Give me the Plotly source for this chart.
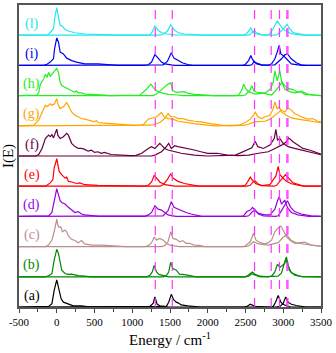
import plotly.graph_objects as go

# panel labels / colours, bottom to top
labels = ['(a)', '(b)', '(c)', '(d)', '(e)', '(f)', '(g)', '(h)', '(i)', '(l)']
colors = ['#000000', '#008800', '#bc8f8f', '#9900dd', '#ff0000',
          '#660040', '#ffa500', '#22ee22', '#0000ee', '#22e8ee']

# dashed reference lines (cm-1)
ref_lines = [1305, 1530, 2620, 2840, 2950, 3048, 3062]

x_ticks = [-500, 0, 500, 1000, 1500, 2000, 2500, 3000, 3500]
x_ticktext = ['-500', '0', '500', '1000', '1500', '2000', '2500', '3000', '3500']

# (a)
a1_e = [-500, -108, -64, -34, 0, 23, 58, 88, 119, 154, 219, 328, 371, 450, 1180, 1234, 1278, 1300, 1330, 1365, 1430, 1480, 2480, 2519, 2563, 2593, 2628, 2820, 2868, 2898, 2933, 2968, 2998, 3042, 3100, 3500]
a1_i = [0, 0.02, 0.11, 0.55, 0.90, 0.66, 0.27, 0.16, 0.13, 0.09, 0.04, 0.04, 0.02, 0, 0, 0.02, 0.13, 0.33, 0.09, 0.04, 0.02, 0, 0, 0.02, 0.09, 0.05, 0.02, 0, 0.02, 0.16, 0.38, 0.16, 0.09, 0.04, 0, 0]
a2_e = [-500, 1400, 1452, 1483, 1517, 1548, 1583, 1613, 1648, 1735, 1822, 1900, 2900, 2955, 2998, 3033, 3064, 3107, 3173, 3238, 3300, 3500]
a2_i = [0, 0, 0.02, 0.16, 0.42, 0.24, 0.16, 0.13, 0.07, 0.04, 0.02, 0, 0, 0.02, 0.11, 0.33, 0.16, 0.09, 0.05, 0.02, 0, 0]

# (b)
b1_e = [-500, -150, -108, -64, -34, 0, 23, 45, 66, 110, 154, 197, 284, 371, 450, 1190, 1234, 1265, 1291, 1321, 1352, 1430, 1480, 2480, 2519, 2563, 2593, 2628, 2693, 2800, 2846, 2889, 2924, 2955, 2985, 3020, 3042, 3064, 3107, 3194, 3260, 3500]
b1_i = [0, 0, 0.03, 0.11, 0.55, 0.91, 0.77, 0.44, 0.22, 0.11, 0.08, 0.09, 0.04, 0.02, 0, 0, 0.05, 0.16, 0.38, 0.16, 0.08, 0.03, 0, 0, 0.02, 0.11, 0.16, 0.08, 0.02, 0, 0.02, 0.16, 0.42, 0.31, 0.38, 0.44, 0.66, 0.38, 0.13, 0.04, 0, 0]
b2_e = [-500, 1410, 1452, 1483, 1509, 1539, 1583, 1626, 1692, 1779, 1850, 2500, 2541, 2584, 2619, 2663, 2700, 2900, 2933, 2977, 3011, 3033, 3055, 3085, 3151, 3238, 3500]
b2_i = [0, 0, 0.04, 0.16, 0.48, 0.27, 0.22, 0.09, 0.07, 0.03, 0, 0, 0.02, 0.10, 0.06, 0.02, 0, 0, 0.02, 0.13, 0.38, 0.60, 0.44, 0.20, 0.05, 0.01, 0]

# (c)
c1_e = [-500, -150, -108, -64, -29, 0, 14, 32, 53, 75, 110, 132, 154, 197, 241, 284, 328, 371, 459, 589, 807, 900, 1170, 1212, 1256, 1291, 1321, 1365, 1408, 1452, 1496, 1561, 1620, 2450, 2497, 2563, 2606, 2637, 2693, 2759, 2802, 2846, 2889, 2924, 2968, 2998, 3042, 3085, 3151, 3282, 3369, 3478, 3500]
c1_i = [0, 0, 0.05, 0.22, 0.55, 0.91, 0.71, 0.64, 0.66, 0.49, 0.55, 0.49, 0.35, 0.24, 0.20, 0.13, 0.20, 0.09, 0.05, 0.05, 0.02, 0, 0, 0.03, 0.13, 0.31, 0.22, 0.27, 0.22, 0.11, 0.05, 0.02, 0, 0, 0.02, 0.16, 0.44, 0.22, 0.13, 0.09, 0.13, 0.22, 0.49, 0.60, 0.68, 0.55, 0.33, 0.22, 0.11, 0.15, 0.05, 0.02, 0.01]
c2_e = [-500, 1390, 1430, 1474, 1509, 1539, 1583, 1626, 1670, 1713, 1757, 1822, 1888, 1960, 2500, 2541, 2606, 2672, 2802, 2933, 2998, 3042, 3072, 3107, 3194, 3260, 3325, 3456, 3500]
c2_i = [0, 0, 0.03, 0.16, 0.49, 0.27, 0.24, 0.16, 0.20, 0.11, 0.11, 0.05, 0.04, 0, 0, 0.02, 0.16, 0.09, 0.05, 0.13, 0.31, 0.38, 0.31, 0.20, 0.11, 0.09, 0.05, 0.02, 0.01]

# (d)
d1_e = [-500, -150, -108, -64, -43, 0, 14, 45, 66, 110, 154, 197, 241, 284, 328, 371, 502, 560, 1170, 1212, 1256, 1300, 1343, 1387, 1430, 1474, 1539, 1580, 2440, 2475, 2519, 2563, 2593, 2628, 2672, 2759, 2824, 2889, 2924, 2946, 2977, 3020, 3055, 3107, 3194, 3282, 3340, 3500]
d1_i = [0, 0, 0.02, 0.13, 0.41, 0.92, 0.79, 0.52, 0.46, 0.41, 0.30, 0.21, 0.13, 0.16, 0.08, 0.05, 0.02, 0, 0, 0.05, 0.13, 0.35, 0.24, 0.21, 0.13, 0.05, 0.02, 0, 0, 0.02, 0.16, 0.21, 0.30, 0.19, 0.10, 0.05, 0.05, 0.24, 0.52, 0.65, 0.41, 0.54, 0.30, 0.13, 0.05, 0.02, 0, 0]
d2_e = [-500, 1370, 1408, 1474, 1517, 1552, 1605, 1648, 1713, 1779, 1866, 1920, 2500, 2541, 2593, 2628, 2672, 2737, 2900, 2933, 2977, 3020, 3055, 3099, 3151, 3238, 3369, 3500]
d2_i = [0, 0, 0.02, 0.19, 0.49, 0.30, 0.24, 0.19, 0.13, 0.08, 0.02, 0, 0, 0.02, 0.16, 0.21, 0.08, 0.02, 0, 0.02, 0.19, 0.35, 0.52, 0.30, 0.16, 0.08, 0.02, 0]

# (e)
e1_e = [-500, -170, -130, -86, -51, -34, 0, 14, 32, 66, 110, 132, 154, 197, 262, 306, 371, 546, 807, 880, 1170, 1212, 1256, 1291, 1321, 1365, 1430, 1517, 1560, 2450, 2497, 2532, 2563, 2593, 2637, 2715, 2824, 2868, 2902, 2933, 2955, 2998, 3042, 3107, 3194, 3260, 3500]
e1_i = [0, 0, 0.03, 0.11, 0.22, 0.60, 0.91, 0.71, 0.49, 0.38, 0.27, 0.30, 0.16, 0.14, 0.09, 0.11, 0.05, 0.03, 0.01, 0, 0, 0.03, 0.14, 0.36, 0.27, 0.14, 0.05, 0.02, 0, 0, 0.03, 0.16, 0.30, 0.19, 0.08, 0.02, 0.05, 0.22, 0.33, 0.66, 0.38, 0.27, 0.16, 0.08, 0.03, 0, 0]
e2_e = [-500, 1370, 1408, 1465, 1509, 1539, 1605, 1692, 1822, 1880, 2520, 2563, 2619, 2663, 2715, 2880, 2911, 2977, 3029, 3072, 3129, 3238, 3300, 3500]
e2_i = [0, 0, 0.05, 0.22, 0.41, 0.27, 0.16, 0.09, 0.03, 0, 0, 0.03, 0.19, 0.08, 0.02, 0, 0.03, 0.22, 0.38, 0.27, 0.11, 0.03, 0, 0]

# (f)
f1_e = [-500, -280, -239, -195, -151, -108, -86, -64, -43, 0, 14, 45, 88, 132, 154, 197, 241, 284, 328, 371, 415, 459, 502, 546, 589, 633, 720, 807, 981, 1050, 1125, 1212, 1256, 1300, 1365, 1387, 1430, 1474, 1561, 1648, 1822, 2000, 2367, 2497, 2584, 2628, 2663, 2737, 2824, 2881, 2902, 2924, 2955, 2998, 3064, 3151, 3238, 3325, 3412, 3478, 3500]
f1_i = [0, 0, 0.05, 0.25, 0.58, 0.69, 0.64, 0.71, 0.60, 0.89, 0.69, 0.58, 0.64, 0.75, 0.69, 0.42, 0.31, 0.25, 0.25, 0.22, 0.16, 0.19, 0.12, 0.14, 0.09, 0.12, 0.05, 0.03, 0.01, 0.02, 0.09, 0.25, 0.31, 0.25, 0.42, 0.36, 0.25, 0.20, 0.14, 0.09, 0.03, 0, 0.03, 0.16, 0.27, 0.49, 0.31, 0.25, 0.36, 0.58, 0.88, 0.53, 0.58, 0.42, 0.31, 0.25, 0.20, 0.14, 0.09, 0.05, 0.04]
f2_e = [-500, 1250, 1300, 1387, 1452, 1483, 1517, 1561, 1605, 1692, 1735, 1822, 1910, 1997, 2127, 2258, 2400, 2541, 2672, 2802, 2889, 2977, 3042, 3072, 3129, 3194, 3260, 3347, 3456, 3500]
f2_i = [0, 0, 0.03, 0.14, 0.31, 0.42, 0.25, 0.34, 0.31, 0.27, 0.25, 0.20, 0.14, 0.09, 0.09, 0.03, 0.01, 0.03, 0.09, 0.14, 0.25, 0.36, 0.47, 0.60, 0.47, 0.36, 0.25, 0.20, 0.09, 0.06]

# (g)
g1_e = [-500, -304, -239, -195, -151, -130, -86, -64, -29, 0, 14, 45, 88, 132, 154, 197, 241, 284, 328, 371, 415, 459, 502, 524, 546, 633, 720, 807, 981, 1060, 1147, 1212, 1278, 1321, 1387, 1422, 1474, 1539, 1605, 1692, 1822, 1997, 2100, 2410, 2497, 2563, 2606, 2628, 2663, 2715, 2759, 2824, 2868, 2889, 2920, 2946, 2977, 3042, 3107, 3194, 3282, 3369, 3456, 3500]
g1_i = [0, 0.02, 0.19, 0.41, 0.68, 0.63, 0.73, 0.68, 0.73, 0.90, 0.73, 0.57, 0.63, 0.77, 0.68, 0.46, 0.35, 0.30, 0.24, 0.22, 0.19, 0.15, 0.13, 0.18, 0.11, 0.09, 0.07, 0.04, 0.02, 0.01, 0.04, 0.22, 0.26, 0.30, 0.44, 0.30, 0.24, 0.22, 0.15, 0.11, 0.07, 0.02, 0, 0.02, 0.11, 0.22, 0.35, 0.46, 0.30, 0.24, 0.30, 0.35, 0.57, 0.79, 0.57, 0.63, 0.46, 0.35, 0.26, 0.22, 0.19, 0.15, 0.11, 0.10]
g2_e = [-500, 1200, 1256, 1365, 1430, 1474, 1509, 1561, 1605, 1670, 1735, 1822, 1910, 2040, 2171, 2300, 2497, 2628, 2759, 2824, 2889, 2933, 2977, 3020, 3064, 3107, 3151, 3238, 3325, 3390, 3456, 3500]
g2_i = [0, 0, 0.02, 0.11, 0.24, 0.41, 0.30, 0.30, 0.24, 0.24, 0.19, 0.15, 0.13, 0.07, 0.02, 0, 0.02, 0.13, 0.15, 0.22, 0.35, 0.46, 0.52, 0.46, 0.59, 0.52, 0.41, 0.30, 0.22, 0.24, 0.15, 0.13]

# (h)
h1_e = [-500, -260, -239, -217, -173, -151, -130, -108, -86, -64, -29, 0, 23, 45, 66, 110, 154, 197, 241, 262, 284, 328, 371, 546, 633, 700, 1060, 1103, 1191, 1247, 1278, 1321, 1387, 1474, 1605, 1660, 2380, 2410, 2454, 2475, 2506, 2541, 2628, 2759, 2824, 2868, 2889, 2920, 2955, 2977, 3020, 3085, 3151, 3238, 3282, 3369, 3420, 3500]
h1_i = [0, 0.02, 0.11, 0.38, 0.55, 0.71, 0.60, 0.77, 0.64, 0.71, 0.82, 0.90, 0.77, 0.44, 0.33, 0.27, 0.20, 0.16, 0.11, 0.16, 0.09, 0.09, 0.05, 0.04, 0.02, 0, 0, 0.02, 0.22, 0.38, 0.27, 0.16, 0.09, 0.04, 0.02, 0, 0, 0.02, 0.20, 0.38, 0.22, 0.13, 0.05, 0.09, 0.20, 0.44, 0.82, 0.49, 0.82, 0.49, 0.22, 0.13, 0.09, 0.13, 0.04, 0.02, 0, 0]
h2_e = [-500, 1280, 1321, 1387, 1474, 1509, 1539, 1583, 1692, 1735, 1822, 1997, 2060, 2460, 2497, 2563, 2584, 2611, 2650, 2715, 2802, 2846, 2911, 2955, 2985, 3020, 3064, 3129, 3194, 3238, 3325, 3412, 3460, 3500]
h2_i = [0, 0, 0.05, 0.20, 0.38, 0.42, 0.16, 0.11, 0.13, 0.08, 0.04, 0.02, 0, 0, 0.02, 0.20, 0.33, 0.16, 0.11, 0.09, 0.05, 0.02, 0.20, 0.33, 0.44, 0.33, 0.24, 0.20, 0.11, 0.15, 0.05, 0.02, 0, 0]

# (i)
i1_e = [-500, -170, -130, -86, -43, -29, 0, 23, 45, 88, 132, 197, 262, 371, 546, 807, 1170, 1212, 1256, 1300, 1343, 1387, 1430, 1517, 1560, 2460, 2497, 2541, 2571, 2593, 2628, 2715, 2800, 2846, 2889, 2920, 2946, 2968, 2998, 3042, 3107, 3194, 3260, 3500]
i1_i = [0, 0, 0.04, 0.11, 0.22, 0.55, 0.91, 0.77, 0.44, 0.38, 0.24, 0.16, 0.11, 0.05, 0.05, 0, 0, 0.02, 0.11, 0.36, 0.24, 0.11, 0.05, 0.02, 0, 0, 0.03, 0.16, 0.33, 0.20, 0.09, 0.02, 0, 0.05, 0.22, 0.44, 0.66, 0.38, 0.33, 0.22, 0.05, 0.02, 0, 0]
i2_e = [-500, 1370, 1408, 1465, 1517, 1552, 1605, 1670, 1735, 1800, 2550, 2584, 2615, 2650, 2715, 2850, 2889, 2977, 3020, 3055, 3107, 3173, 3238, 3300, 3500]
i2_i = [0, 0, 0.02, 0.13, 0.42, 0.24, 0.16, 0.08, 0.03, 0, 0, 0.02, 0.13, 0.05, 0.01, 0, 0.02, 0.22, 0.35, 0.38, 0.22, 0.09, 0.02, 0, 0]

# (l)
l1_e = [-500, -200, -117, -86, -43, -21, 0, 23, 45, 66, 110, 154, 241, 371, 589, 807, 1200, 1234, 1265, 1300, 1343, 1387, 1452, 1561, 2460, 2497, 2541, 2571, 2593, 2628, 2715, 2790, 2824, 2868, 2920, 2942, 2977, 3020, 3107, 3194, 3260, 3500]
l1_i = [0, 0, 0.01, 0.09, 0.22, 0.66, 0.91, 0.60, 0.33, 0.31, 0.20, 0.14, 0.08, 0.04, 0.02, 0, 0, 0.01, 0.11, 0.31, 0.16, 0.09, 0.04, 0.01, 0, 0.02, 0.13, 0.25, 0.13, 0.05, 0.02, 0, 0.05, 0.22, 0.47, 0.38, 0.27, 0.16, 0.05, 0.02, 0, 0]
l2_e = [-500, 1370, 1408, 1465, 1509, 1561, 1605, 1692, 1822, 1900, 2530, 2563, 2615, 2650, 2715, 2900, 2933, 2998, 3051, 3085, 3129, 3238, 3300, 3500]
l2_i = [0, 0, 0.03, 0.13, 0.35, 0.16, 0.09, 0.04, 0.02, 0, 0, 0.02, 0.16, 0.07, 0.01, 0, 0.05, 0.20, 0.36, 0.22, 0.09, 0.02, 0, 0]

panels = [
    (a1_e, a1_i, a2_e, a2_i), (b1_e, b1_i, b2_e, b2_i), (c1_e, c1_i, c2_e, c2_i),
    (d1_e, d1_i, d2_e, d2_i), (e1_e, e1_i, e2_e, e2_i), (f1_e, f1_i, f2_e, f2_i),
    (g1_e, g1_i, g2_e, g2_i), (h1_e, h1_i, h2_e, h2_i), (i1_e, i1_i, i2_e, i2_i),
    (l1_e, l1_i, l2_e, l2_i),
]

serif = 'Liberation Serif, Times New Roman, serif'

fig = go.Figure()
for k, (e1, i1, e2, i2) in enumerate(panels):
    for ee, ii in ((e1, i1), (e2, i2)):
        fig.add_trace(go.Scatter(x=ee, y=[v + k for v in ii], mode='lines',
                                 line=dict(color=colors[k], width=1.2),
                                 showlegend=False, hoverinfo='skip'))
    fig.add_annotation(x=-330, y=k + 0.38, text=labels[k], showarrow=False,
                       font=dict(family=serif, size=14, color=colors[k]))

for xv in ref_lines:
    fig.add_vline(x=xv, line=dict(color='#ff33ff', width=1.2, dash='dash'))

fig.update_layout(
    width=336, height=353,
    margin=dict(l=19, r=11, t=3, b=46),
    paper_bgcolor='white', plot_bgcolor='white',
    font=dict(family=serif, color='black'),
)
fig.update_xaxes(range=[-500, 3500], tickvals=x_ticks, ticktext=x_ticktext,
                 ticks='outside', ticklen=4, tickcolor='#444', tickfont=dict(size=11),
                 ticklabeloverflow='allow',
                 minor=dict(dtick=250, ticks='outside', ticklen=3, tickcolor='#444'),
                 showline=True, linecolor='#555', linewidth=1.5, mirror=True,
                 showgrid=False, zeroline=False,
                 title=dict(text='Energy / cm<sup>-1</sup>', font=dict(size=15), standoff=8))
fig.update_yaxes(range=[0, 10], showticklabels=False, ticks='',
                 showline=True, linecolor='#555', linewidth=1.5, mirror=True,
                 showgrid=False, zeroline=False,
                 title=dict(text='I(E)', font=dict(size=15), standoff=2))

# page margin off so the figure sits at the window's corner
fig.write_html('out.html', config={'displayModeBar': False},
               post_script="document.body.style.margin='0';")
